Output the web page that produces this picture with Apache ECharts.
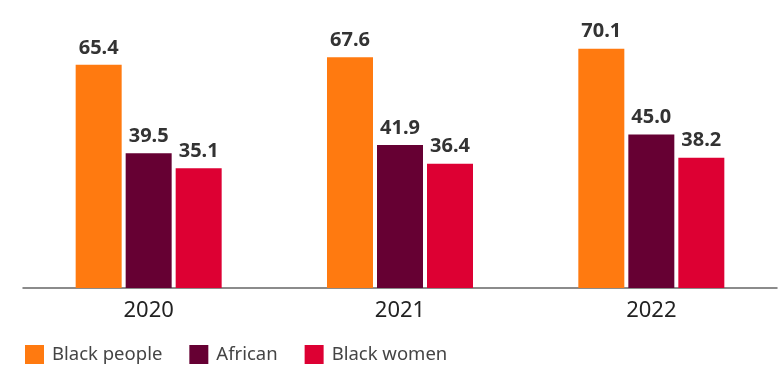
<!DOCTYPE html>
<html>
<head>
<meta charset="utf-8">
<script src="https://cdn.jsdelivr.net/npm/echarts@6/dist/echarts.min.js"></script>
<style>
  html, body { margin: 0; padding: 0; background: #fff; }
  #chart { width: 780px; height: 366px; }
</style>
</head>
<body>
<div id="chart"></div>
<script>
const years = ["2020", "2021", "2022"];
const blackPeople = [65.4, 67.6, 70.1];
const african = [39.5, 41.9, 45.0];
const blackWomen = [35.1, 36.4, 38.2];

const font = "'Noto Sans', sans-serif";

const valueLabel = {
  show: true,
  position: "top",
  distance: 7,
  fontFamily: font,
  fontSize: 20,
  fontWeight: "bold",
  color: "#333",
  formatter: p => p.value.toFixed(1)
};

const chart = echarts.init(document.getElementById("chart"));
chart.setOption({
  animation: false,
  grid: { left: 23, right: 3, top: 15, bottom: 78 },
  legend: {
    left: 25,
    top: 345,
    padding: 0,
    itemWidth: 19,
    itemHeight: 19,
    itemGap: 27,
    icon: "rect",
    textStyle: { fontFamily: font, fontSize: 18.5, color: "#444", padding: [0, 0, 0, 3] },
    data: ["Black people", "African", "Black women"]
  },
  xAxis: {
    type: "category",
    data: years,
    axisLine: { lineStyle: { color: "#666", width: 1.5 } },
    axisTick: { show: false },
    axisLabel: { fontFamily: font, fontSize: 22, color: "#222", margin: 12 }
  },
  yAxis: {
    type: "value",
    min: 0,
    max: 80,
    show: false,
    splitLine: { show: false }
  },
  series: [
    { name: "Black people", type: "bar", data: blackPeople, barWidth: 46, barGap: "8.7%",
      itemStyle: { color: "#FF7A10" }, label: valueLabel },
    { name: "African", type: "bar", data: african, barWidth: 46, barGap: "8.7%",
      itemStyle: { color: "#660033" }, label: valueLabel },
    { name: "Black women", type: "bar", data: blackWomen, barWidth: 46, barGap: "8.7%",
      itemStyle: { color: "#DD0033" }, label: valueLabel }
  ]
});
</script>
</body>
</html>
